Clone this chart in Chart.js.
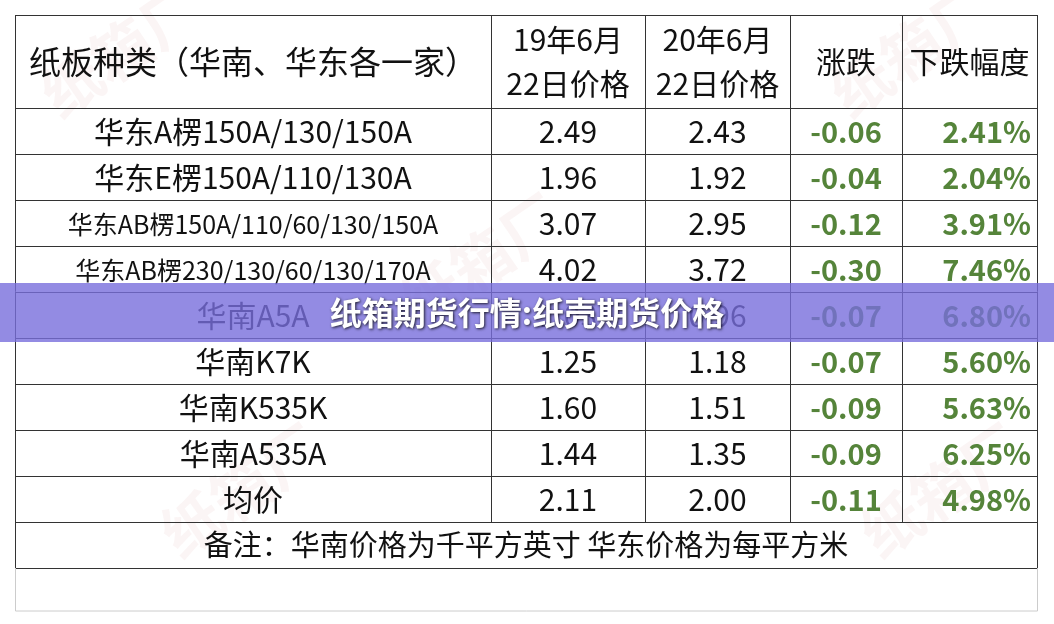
<!DOCTYPE html>
<html><head><meta charset="utf-8">
<script src="https://cdn.jsdelivr.net/npm/chart.js@4"></script>
<style>html,body{margin:0;padding:0;background:#fff}canvas{display:block}</style>
</head><body>
<canvas id="c" width="1054" height="624"></canvas>
<script>
const headers = ['纸板种类（华南、华东各一家）', '19年6月\n22日价格', '20年6月\n22日价格', '涨跌', '下跌幅度'];
const categories = ['华东A楞150A/130/150A','华东E楞150A/110/130A','华东AB楞150A/110/60/130/150A','华东AB楞230/130/60/130/170A','华南A5A','华南K7K','华南K535K','华南A535A','均价'];
const price2019 = ['2.49','1.96','3.07','4.02','1.03','1.25','1.60','1.44','2.11'];
const price2020 = ['2.43','1.92','2.95','3.72','0.96','1.18','1.51','1.35','2.00'];
const change = ['-0.06','-0.04','-0.12','-0.30','-0.07','-0.07','-0.09','-0.09','-0.11'];
const dropPct = ['2.41%','2.04%','3.91%','7.46%','6.80%','5.60%','5.63%','6.25%','4.98%'];
const note = '备注：华南价格为千平方英寸 华东价格为每平方米';
const title = '纸箱期货行情:纸壳期货价格';
const rowLabels = categories.concat(['备注']);
const colFrac = [476,154,145,112,135];
const F = '"Noto Sans CJK SC","Noto Sans",sans-serif';

const tablePlugin = {
  id:'table',
  afterDraw(chart){
    const ctx = chart.ctx, a = chart.chartArea, ys = chart.scales.y;
    const tot = colFrac.reduce((s,v)=>s+v,0);
    const xs=[a.left]; colFrac.forEach(w=>xs.push(xs[xs.length-1]+w/tot*(a.right-a.left)));
    const rh = ys.getPixelForValue(1)-ys.getPixelForValue(0);
    const top = 15;
    ctx.save();
    ctx.fillStyle='rgba(200,120,120,0.07)';
    ctx.font='bold 60px '+F;
    [[60,120],[420,330],[850,120],[180,560],[880,560]].forEach(p=>{ctx.save();ctx.translate(p[0],p[1]);ctx.rotate(-0.6);ctx.fillText('纸箱厂',0,0);ctx.restore();});
    ctx.strokeStyle='#333'; ctx.lineWidth=1;
    const bottomNote = ys.getPixelForValue(9)+rh/2;
    const hl=[top]; for(let i=0;i<=9;i++) hl.push(ys.getPixelForValue(i)-rh/2); hl.push(bottomNote);
    hl.forEach(y=>{ctx.beginPath();ctx.moveTo(a.left,Math.round(y)+0.5);ctx.lineTo(a.right,Math.round(y)+0.5);ctx.stroke();});
    xs.forEach((x,i)=>{const yb=(i===0||i===5)?bottomNote:ys.getPixelForValue(9)-rh/2;ctx.beginPath();ctx.moveTo(Math.round(x)+0.5,top);ctx.lineTo(Math.round(x)+0.5,yb);ctx.stroke();});
    ctx.strokeStyle='#ccc';
    ctx.beginPath();ctx.moveTo(a.left+0.5,bottomNote);ctx.lineTo(a.left+0.5,bottomNote+43);ctx.lineTo(a.right+0.5,bottomNote+43);ctx.lineTo(a.right+0.5,bottomNote);ctx.stroke();
    ctx.fillStyle='#111'; ctx.textAlign='center'; ctx.textBaseline='middle';
    const hm=(top+hl[1])/2;
    headers.forEach((h,i)=>{
      const cx=(xs[i]+xs[i+1])/2;
      const lines=h.split('\n');
      ctx.font=(i===0?'32px ':'30px ')+F;
      lines.forEach((l,k)=>ctx.fillText(l,cx,hm+(k-(lines.length-1)/2)*44));
    });
    categories.forEach((c,r)=>{
      const y=ys.getPixelForValue(r)+1;
      ctx.fillStyle='#111';
      ctx.font=(c.length>20?'25px ':'30px ')+F;
      ctx.fillText(c,(xs[0]+xs[1])/2,y);
      ctx.font='30px '+F;
      ctx.fillText(price2019[r],(xs[1]+xs[2])/2,y);
      ctx.fillText(price2020[r],(xs[2]+xs[3])/2,y);
      ctx.fillStyle='#55843a'; ctx.font='bold 29px '+F;
      ctx.fillText(change[r],(xs[3]+xs[4])/2,y);
      ctx.textAlign='right'; ctx.fillText(dropPct[r],xs[5]-6,y); ctx.textAlign='center';
    });
    ctx.fillStyle='#111'; ctx.font='29px '+F;
    ctx.fillText(note,(a.left+a.right)/2,ys.getPixelForValue(9));
    const bm=(ys.getPixelForValue(4))-2;
    ctx.fillStyle='rgba(120,110,220,0.80)';
    ctx.fillRect(0,bm-30,chart.width,59);
    ctx.font='bold 32px '+F; ctx.fillStyle='#fff';
    ctx.shadowColor='rgba(0,0,0,0.8)'; ctx.shadowBlur=3; ctx.shadowOffsetX=1; ctx.shadowOffsetY=1;
    ctx.fillText(title,527,bm);
    ctx.restore();
  }
};

new Chart(document.getElementById('c'),{
  type:'scatter',
  data:{datasets:[{data:categories.map((c,i)=>({x:0,y:c})),pointRadius:0}]},
  options:{
    responsive:false,animation:false,devicePixelRatio:1,
    layout:{padding:{left:15,right:17,top:108,bottom:56}},
    plugins:{legend:{display:false},tooltip:{enabled:false}},
    scales:{
      x:{type:'linear',display:false,min:0,max:1},
      y:{type:'category',labels:rowLabels,offset:true,display:false}
    }
  },
  plugins:[tablePlugin]
});
</script>
</body></html>
